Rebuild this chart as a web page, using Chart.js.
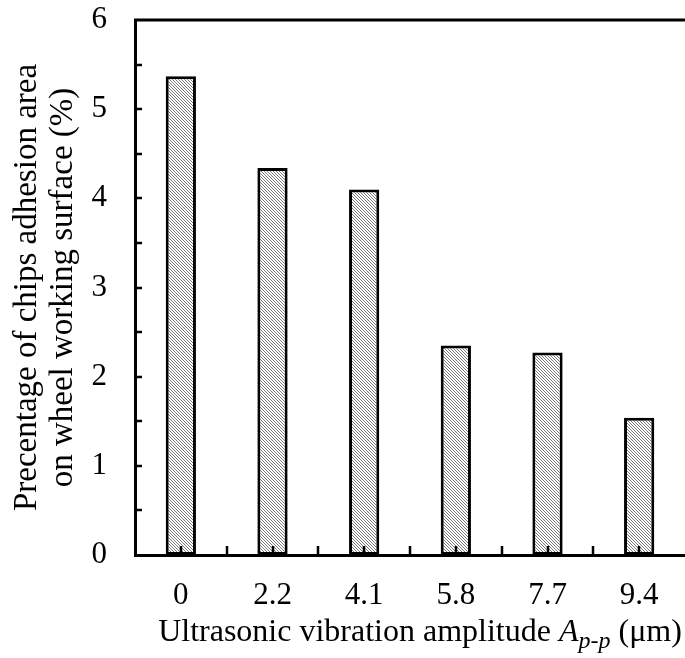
<!DOCTYPE html>
<html lang="en">
<head>
    <meta charset="UTF-8">
    <title>Chips adhesion area</title>
    <script src="https://cdn.jsdelivr.net/npm/chart.js"></script>
    <style>
        html, body { margin: 0; padding: 0; background: #fff; }
        canvas { display: block; }
    </style>
</head>
<body>
    <canvas id="chart" width="685" height="658"></canvas>
    <script>
        // data
        const amplitudes = ['0', '2.2', '4.1', '5.8', '7.7', '9.4'];
        const adhesionArea = [5.37, 4.34, 4.10, 2.35, 2.27, 1.54];
        const yTicks = [0, 1, 2, 3, 4, 5, 6];

        const yTitle = ['Precentage of chips adhesion area', 'on wheel working surface (%)'];

        const FONT = '"Liberation Serif", "Times New Roman", serif';

        // diagonal hatch fill
        function makeHatch() {
            const c = document.createElement('canvas');
            c.width = 3; c.height = 3;
            const g = c.getContext('2d');
            g.fillStyle = '#fff';
            g.fillRect(0, 0, 3, 3);
            g.fillStyle = '#7a7a7a';
            for (let i = 0; i < 3; i++) g.fillRect(i, i, 1, 1);
            return g.createPattern(c, 'repeat');
        }

        // inward ticks + top frame line + x title with italic subscript
        const framePlugin = {
            id: 'frame',
            afterDraw(chart) {
                const ctx = chart.ctx;
                const area = chart.chartArea;
                const x = chart.scales.x, y = chart.scales.y;
                ctx.save();
                ctx.strokeStyle = '#000';
                ctx.lineWidth = 3;
                ctx.beginPath();
                ctx.moveTo(area.left - 1, area.top);
                ctx.lineTo(area.right, area.top);
                ctx.stroke();

                ctx.lineWidth = 2.5;
                ctx.beginPath();
                for (let v = 0.5; v < 6; v += 0.5) {
                    const py = Math.round(y.getPixelForValue(v));
                    ctx.moveTo(area.left, py);
                    ctx.lineTo(area.left + 7, py);
                }
                const n = amplitudes.length;
                for (let i = 0; i < n; i++) {
                    const px = Math.round(x.getPixelForValue(i));
                    ctx.moveTo(px, area.bottom);
                    ctx.lineTo(px, area.bottom - 9);
                    if (i > 0) {
                        const bx = Math.round((x.getPixelForValue(i) + x.getPixelForValue(i - 1)) / 2);
                        ctx.moveTo(bx, area.bottom);
                        ctx.lineTo(bx, area.bottom - 9);
                    }
                }
                ctx.stroke();

                // x axis title
                const parts = [
                    { t: 'Ultrasonic vibration amplitude ', f: '32px ' + FONT, dy: 0 },
                    { t: 'A', f: 'italic 32px ' + FONT, dy: 0 },
                    { t: 'p-p', f: 'italic 24px ' + FONT, dy: 7 },
                    { t: ' (\u03bcm)', f: '32px ' + FONT, dy: 0 }
                ];
                let total = 0;
                parts.forEach(p => { ctx.font = p.f; p.w = ctx.measureText(p.t).width; total += p.w; });
                let cx = (area.left + area.right) / 2 + 10 - total / 2;
                const base = 641;
                ctx.fillStyle = '#000';
                ctx.textBaseline = 'alphabetic';
                ctx.textAlign = 'left';
                parts.forEach(p => {
                    ctx.font = p.f;
                    ctx.fillText(p.t, cx, base + p.dy);
                    cx += p.w;
                });
                ctx.restore();
            }
        };

        const ctx = document.getElementById('chart').getContext('2d');
        new Chart(ctx, {
            type: 'bar',
            data: {
                labels: amplitudes,
                datasets: [{
                    data: adhesionArea,
                    backgroundColor: makeHatch(),
                    borderColor: '#000',
                    borderWidth: 3,
                    borderSkipped: false,
                    barPercentage: 0.33,
                    categoryPercentage: 1
                }]
            },
            options: {
                responsive: false,
                animation: false,
                layout: { padding: { top: 20, right: 0, left: 0, bottom: 0 } },
                plugins: { legend: { display: false }, tooltip: { enabled: false } },
                scales: {
                    x: {
                        offset: true,
                        grid: { display: false, drawTicks: false },
                        border: { display: true, color: '#000', width: 3 },
                        ticks: { color: '#000', padding: 22, font: { family: FONT, size: 31 }, maxRotation: 0 },
                        afterFit: s => { s.height = 103; s.paddingLeft = 0; s.paddingRight = 0; }
                    },
                    y: {
                        min: 0,
                        max: 6,
                        afterBuildTicks: s => { s.ticks = yTicks.map(v => ({ value: v })); },
                        grid: { display: false, drawTicks: false },
                        border: { display: true, color: '#000', width: 3 },
                        ticks: { color: '#000', padding: 28, font: { family: FONT, size: 31 } },
                        title: {
                            display: true,
                            text: yTitle,
                            color: '#000',
                            font: { family: FONT, size: 33, lineHeight: 1.1 },
                            padding: { top: 9, bottom: 0 }
                        },
                        afterFit: s => { s.width = 135; s.paddingTop = 0; s.paddingBottom = 0; }
                    }
                }
            },
            plugins: [framePlugin]
        });
    </script>
</body>
</html>
